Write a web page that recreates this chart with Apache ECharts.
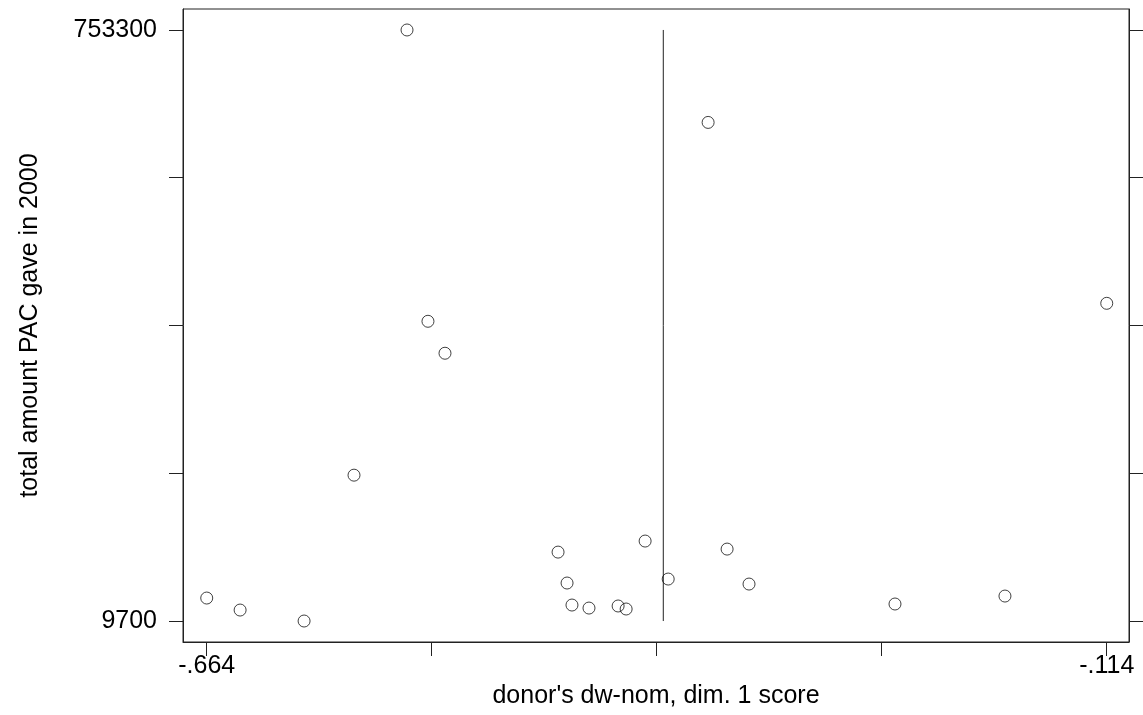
<!DOCTYPE html>
<html>
<head>
<meta charset="utf-8">
<script src="https://cdn.jsdelivr.net/npm/echarts@6/dist/echarts.min.js"></script>
<style>
html,body{margin:0;padding:0;background:#fff;}
#chart{width:1143px;height:715px;}
</style>
</head>
<body>
<div id="chart"></div>
<script>
// Data
const dwNom = [-0.664, -0.6436, -0.6045, -0.574, -0.5416, -0.5288, -0.5184, -0.4493, -0.4438, -0.4408, -0.4304, -0.4126, -0.4077, -0.3961, -0.382, -0.3576, -0.346, -0.3326, -0.2434, -0.1762, -0.114];
const pacTotal = [38600, 23500, 9700, 193200, 753300, 386800, 346600, 96400, 57500, 29800, 26000, 28600, 24800, 110300, 62500, 637000, 100200, 56200, 31100, 41100, 409400];
const refLineX = -0.385;
const refLineY = [9700, 753300];
const xTicks = [-0.664, -0.5265, -0.389, -0.2515, -0.114];
const xTickLabels = ['-.664', '', '', '', '-.114'];
const yTicks = [9700, 195600, 381500, 567400, 753300];
const yTickLabels = ['9700', '', '', '', '753300'];

const points = dwNom.map((x, i) => [x, pacTotal[i]]);
const xLabelMap = {}; xTicks.forEach((v, i) => xLabelMap[v.toFixed(4)] = xTickLabels[i]);
const yLabelMap = {}; yTicks.forEach((v, i) => yLabelMap[String(v)] = yTickLabels[i]);

const FONT = 'Liberation Sans, Arial, Helvetica, sans-serif';
const LINE = '#222';

const chart = echarts.init(document.getElementById('chart'), null, {renderer: 'canvas'});
chart.setOption({
  animation: false,
  backgroundColor: '#fff',
  grid: {left: 183, right: 14, top: 9, bottom: 73, show: true, borderColor: LINE, borderWidth: 1, containLabel: false},
  xAxis: {
    type: 'value', min: -0.6785, max: -0.1004,
    name: "donor's dw-nom, dim. 1 score", nameLocation: 'middle', nameGap: 37,
    nameTextStyle: {fontFamily: FONT, fontSize: 25, color: '#000'},
    axisLine: {show: true, onZero: false, lineStyle: {color: LINE, width: 1}},
    axisTick: {show: true, inside: false, length: 14, lineStyle: {color: LINE}, customValues: xTicks},
    axisLabel: {show: true, margin: 12, fontFamily: FONT, fontSize: 25, color: '#000', customValues: xTicks,
      formatter: v => xLabelMap[Number(v).toFixed(4)] || ''},
    splitLine: {show: false}
  },
  yAxis: [{
    type: 'value', min: -16700, max: 779700, position: 'left',
    name: 'total amount PAC gave in 2000', nameLocation: 'middle', nameGap: 140, nameRotate: 90,
    nameTextStyle: {fontFamily: FONT, fontSize: 25, color: '#000'},
    axisLine: {show: true, onZero: false, lineStyle: {color: LINE, width: 1}},
    axisTick: {show: true, inside: false, length: 14, lineStyle: {color: LINE}, customValues: yTicks},
    axisLabel: {show: true, margin: 26, fontFamily: FONT, fontSize: 25, color: '#000', customValues: yTicks,
      formatter: v => yLabelMap[String(v)] || ''},
    splitLine: {show: false}
  }, {
    type: 'value', min: -16700, max: 779700, position: 'right',
    axisLine: {show: true, onZero: false, lineStyle: {color: LINE, width: 1}},
    axisTick: {show: true, inside: false, length: 14, lineStyle: {color: LINE}, customValues: yTicks},
    axisLabel: {show: false},
    splitLine: {show: false}
  }],
  series: [{
    type: 'line',
    data: refLineY.map(y => [refLineX, y]),
    showSymbol: false, symbol: 'none',
    lineStyle: {color: LINE, width: 1},
    z: 1, silent: true
  }, {
    type: 'scatter',
    data: points,
    symbol: 'circle', symbolSize: 12,
    itemStyle: {color: 'rgba(0,0,0,0)', borderColor: '#111', borderWidth: 1},
    z: 2
  }]
});
</script>
</body>
</html>
